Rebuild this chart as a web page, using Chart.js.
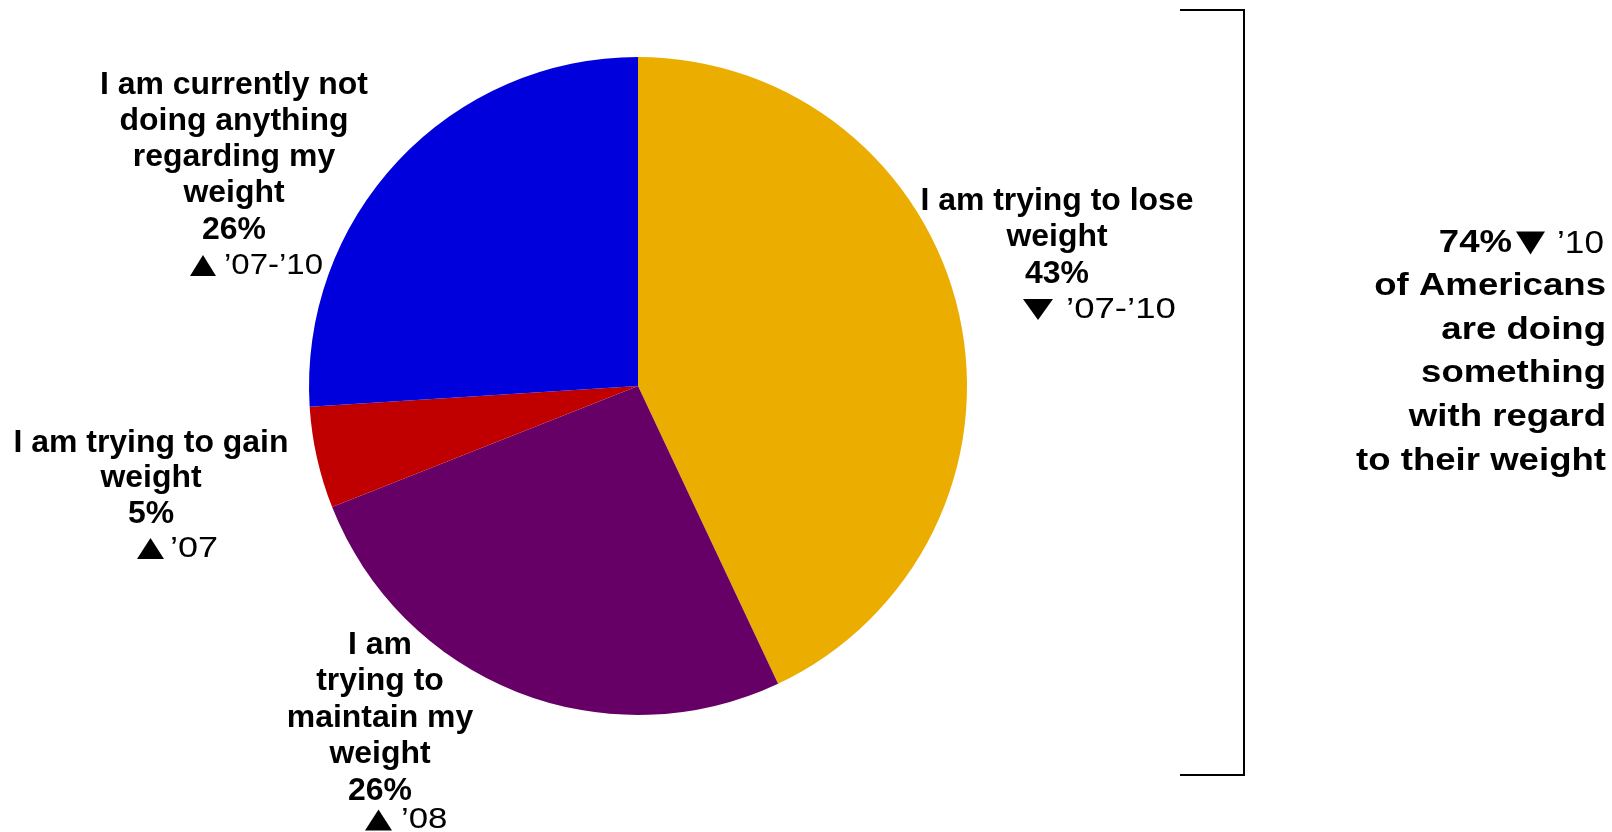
<!DOCTYPE html>
<html>
<head>
<meta charset="utf-8">
<script src="https://cdn.jsdelivr.net/npm/chart.js@4"></script>
<style>
  html, body { margin: 0; padding: 0; background: #fff; }
  #wrap { width: 1612px; height: 832px; position: relative; }
</style>
</head>
<body>
<div id="wrap"><canvas id="weightChart" width="1612" height="832"></canvas></div>
<script>
// ---------------------------
// DATA
// ---------------------------
const categories = [
  "I am trying to lose weight",
  "I am trying to maintain my weight",
  "I am trying to gain weight",
  "I am currently not doing anything regarding my weight"
];
const shares = [43, 26, 5, 26];
const trendDir = ["down", "up", "up", "up"];
const trendYears = ["’07-’10", "’08", "’07", "’07-’10"];
const sliceColors = ["#EAAD00", "#660066", "#C00000", "#0000DD"];
const summaryLines = ["of Americans", "are doing", "something", "with regard", "to their weight"];
const summaryValue = "74%";
const summaryYear = "’10";

// label text broken the way the slide does it
const labelLines = [
  ["I am trying to lose", "weight"],
  ["I am", "trying to", "maintain my", "weight"],
  ["I am trying to gain", "weight"],
  ["I am currently not", "doing anything", "regarding my", "weight"]
];

// ---------------------------
// TEXT HELPERS
// ---------------------------
const BOLD = "bold 31px 'Liberation Sans', Arial, sans-serif";
const REG = "30px 'Liberation Sans', Arial, sans-serif";

function drawText(ctx, text, x, y, font, align, sx) {
  ctx.save();
  ctx.font = font;
  ctx.fillStyle = "#000";
  ctx.textBaseline = "middle";
  ctx.textAlign = align;
  ctx.translate(x, y);
  ctx.scale(sx || 1, 1);
  ctx.fillText(text, 0, 0);
  ctx.restore();
}

function drawTriangle(ctx, left, cy, w, h, dir) {
  ctx.save();
  ctx.fillStyle = "#000";
  ctx.beginPath();
  if (dir === "up") {
    ctx.moveTo(left, cy + h / 2);
    ctx.lineTo(left + w, cy + h / 2);
    ctx.lineTo(left + w / 2, cy - h / 2);
  } else {
    ctx.moveTo(left, cy - h / 2);
    ctx.lineTo(left + w, cy - h / 2);
    ctx.lineTo(left + w / 2, cy + h / 2);
  }
  ctx.closePath();
  ctx.fill();
  ctx.restore();
}

// where each label block sits (centre x, first line y, line step, arrow left, text left, trend gap)
const labelSpots = [
  { x: 1057, y: 201, step: 36.5, ax: 1023, tx: 1066, aw: 30, sx: 1.22, gap: 34.5 },
  { x: 380, y: 645, step: 36.5, ax: 365, tx: 401, aw: 27, sx: 1.16, gap: 28 },
  { x: 151, y: 443, step: 35.5, ax: 137, tx: 170, aw: 27, sx: 1.2, gap: 33.5 },
  { x: 234, y: 85, step: 36.3, ax: 190, tx: 224, aw: 26, sx: 1.1, gap: 34.3 }
];

const labelsPlugin = {
  id: "sliceLabels",
  afterDraw(chart) {
    const ctx = chart.ctx;
    labelLines.forEach((lines, i) => {
      const s = labelSpots[i];
      let y = s.y;
      lines.forEach(l => { drawText(ctx, l, s.x, y, BOLD, "center", 1.03); y += s.step; });
      drawText(ctx, shares[i] + "%", s.x, y, BOLD, "center", 1.03);
      y += s.gap;
      drawTriangle(ctx, s.ax, y + 1, s.aw, 21, trendDir[i]);
      drawText(ctx, trendYears[i], s.tx, y + 1, REG, "left", s.sx);
    });

    // bracket
    ctx.save();
    ctx.strokeStyle = "#000";
    ctx.lineWidth = 2;
    ctx.beginPath();
    ctx.moveTo(1180, 10);
    ctx.lineTo(1244, 10);
    ctx.lineTo(1244, 775);
    ctx.lineTo(1180, 775);
    ctx.stroke();
    ctx.restore();

    // summary text on the right
    const rx = 1606;
    let y = 243;
    drawText(ctx, summaryYear, 1604, y + 1, "32px 'Liberation Sans', Arial, sans-serif", "right", 1.1);
    drawTriangle(ctx, 1516, y, 29, 23, "down");
    drawText(ctx, summaryValue, 1512, y, BOLD, "right", 1.18);
    summaryLines.forEach(l => { y += 43.6; drawText(ctx, l, rx, y, BOLD, "right", 1.18); });
  }
};

// ---------------------------
// CHART
// ---------------------------
new Chart(document.getElementById("weightChart"), {
  type: "pie",
  data: {
    labels: categories,
    datasets: [{
      data: shares,
      backgroundColor: sliceColors,
      borderWidth: 0
    }]
  },
  options: {
    responsive: false,
    animation: false,
    layout: { padding: { top: 57, bottom: 117, left: 309, right: 645 } },
    plugins: {
      legend: { display: false },
      tooltip: { enabled: false }
    }
  },
  plugins: [labelsPlugin]
});
</script>
</body>
</html>
